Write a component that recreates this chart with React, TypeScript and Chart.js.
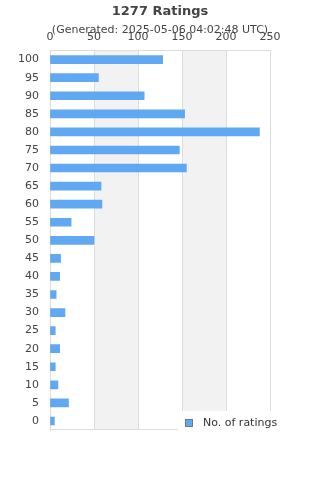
import React, { useEffect, useRef } from 'react';
import { Chart, registerables } from 'chart.js';

Chart.register(...registerables);

const categories = ['100', '95', '90', '85', '80', '75', '70', '65', '60', '55', '50', '45', '40', '35', '30', '25', '20', '15', '10', '5', '0'];
const ratingCounts = [128, 55, 107, 153, 238, 147, 155, 58, 59, 24, 50, 12, 11, 7, 17, 6, 11, 6, 9, 21, 5];
const xTicks = [0, 50, 100, 150, 200, 250];
const titleText = '1277 Ratings';
const subtitleText = '(Generated: 2025-05-06 04:02:48 UTC)';
const seriesLabel = 'No. of ratings';

const FONT = 'DejaVu Sans';
const BAR_COLOR = '#60a9f2';
const GRID_COLOR = '#dddddd';
const BAND_COLOR = '#f2f2f2';
const TEXT_COLOR = '#444444';

const bandsPlugin = {
  id: 'bands',
  beforeDraw(chart: any) {
    const { ctx, chartArea, scales } = chart;
    const x = scales.x;
    ctx.save();
    ctx.fillStyle = BAND_COLOR;
    for (let i = 1; i < xTicks.length - 1; i += 2) {
      const a = x.getPixelForValue(xTicks[i]);
      const b = x.getPixelForValue(xTicks[i + 1]);
      ctx.fillRect(a, chartArea.top, b - a, chartArea.bottom - chartArea.top);
    }
    ctx.strokeStyle = GRID_COLOR;
    ctx.lineWidth = 1;
    ctx.beginPath();
    ctx.moveTo(chartArea.left, Math.round(chartArea.bottom) - 0.5);
    ctx.lineTo(chartArea.right, Math.round(chartArea.bottom) - 0.5);
    ctx.stroke();
    ctx.restore();
  },
};

const legendPlugin = {
  id: 'customLegend',
  afterDraw(chart: any) {
    const { ctx, chartArea } = chart;
    const label = chart.data.datasets[0].label;
    const right = chartArea.right;
    const bottom = chartArea.bottom;
    ctx.save();
    ctx.fillStyle = '#ffffff';
    ctx.fillRect(right - 92, bottom - 19, 150, 30);
    ctx.fillStyle = BAR_COLOR;
    ctx.fillRect(right - 84.5, bottom - 10.5, 7, 7);
    ctx.strokeStyle = '#777777';
    ctx.lineWidth = 1;
    ctx.strokeRect(right - 84.5, bottom - 10.5, 7, 7);
    ctx.fillStyle = '#333333';
    ctx.font = `11px "${FONT}"`;
    ctx.textBaseline = 'middle';
    ctx.textAlign = 'left';
    ctx.fillText(label, right - 67, bottom - 7);
    ctx.restore();
  },
};

export default function App() {
  const ref = useRef<HTMLCanvasElement>(null);

  useEffect(() => {
    document.body.style.margin = '0';
    const canvas = ref.current;
    if (!canvas) return;
    const chart = new Chart(canvas, {
      type: 'bar',
      data: {
        labels: categories,
        datasets: [
          {
            label: seriesLabel,
            data: ratingCounts,
            backgroundColor: BAR_COLOR,
            borderWidth: 0,
            barThickness: 8,
          },
        ],
      },
      options: {
        indexAxis: 'y',
        responsive: false,
        animation: false,
        devicePixelRatio: 1,
        layout: { padding: { left: 0, right: 0, top: 0, bottom: 50 } },
        plugins: {
          legend: { display: false },
          tooltip: { enabled: false },
          title: {
            display: true,
            text: titleText,
            color: TEXT_COLOR,
            font: { family: FONT, size: 13, weight: 'bold' },
            padding: { top: 4, bottom: 4 },
          },
          subtitle: {
            display: true,
            text: subtitleText,
            color: TEXT_COLOR,
            font: { family: FONT, size: 11 },
            padding: { top: 0, bottom: -6 },
          },
        },
        scales: {
          x: {
            position: 'top',
            min: xTicks[0],
            max: xTicks[xTicks.length - 1],
            afterFit: (s: any) => {
              s.height = 19.8;
            },
            ticks: {
              stepSize: 50,
              color: TEXT_COLOR,
              font: { family: FONT, size: 11 },
              padding: 6.6,
              maxRotation: 0,
            },
            grid: { color: GRID_COLOR, drawTicks: false },
            border: { display: true, color: GRID_COLOR },
          },
          y: {
            afterFit: (s: any) => {
              s.width = 50;
            },
            ticks: {
              color: TEXT_COLOR,
              font: { family: FONT, size: 11 },
              padding: 11,
            },
            grid: { display: false, drawTicks: false },
            border: { display: true, color: GRID_COLOR },
          },
          yRight: {
            type: 'category',
            position: 'right',
            display: true,
            afterFit: (s: any) => {
              s.width = 50;
            },
            ticks: { display: false },
            grid: { display: false, drawTicks: false },
            border: { display: false },
          },
        },
      } as any,
      plugins: [bandsPlugin, legendPlugin],
    });
    return () => chart.destroy();
  }, []);

  return <canvas ref={ref} width={320} height={480} style={{ display: 'block' }} />;
}
